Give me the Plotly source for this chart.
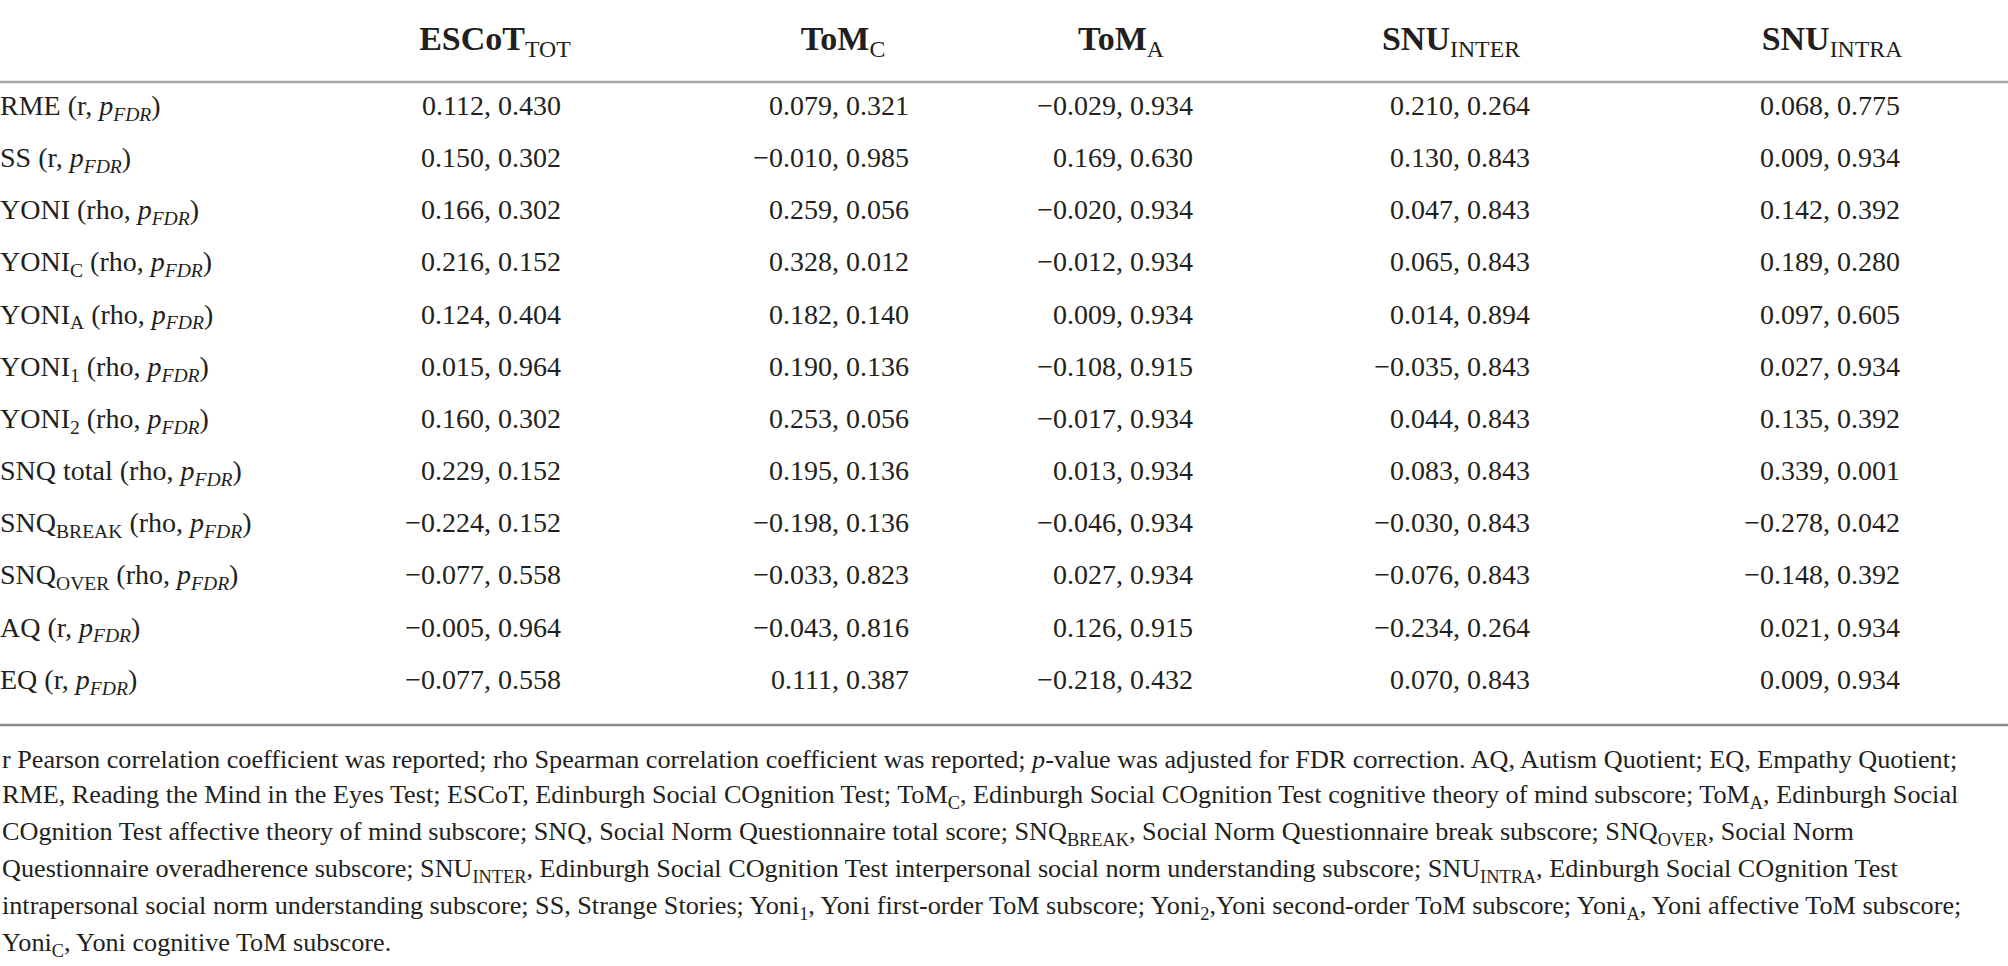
import plotly.graph_objects as go

# ---- data ----
row_labels = [
    "RME (r, <i>p</i><sub><i>FDR</i></sub>)",
    "SS (r, <i>p</i><sub><i>FDR</i></sub>)",
    "YONI (rho, <i>p</i><sub><i>FDR</i></sub>)",
    "YONI<sub>C</sub> (rho, <i>p</i><sub><i>FDR</i></sub>)",
    "YONI<sub>A</sub> (rho, <i>p</i><sub><i>FDR</i></sub>)",
    "YONI<sub>1</sub> (rho, <i>p</i><sub><i>FDR</i></sub>)",
    "YONI<sub>2</sub> (rho, <i>p</i><sub><i>FDR</i></sub>)",
    "SNQ total (rho, <i>p</i><sub><i>FDR</i></sub>)",
    "SNQ<sub>BREAK</sub> (rho, <i>p</i><sub><i>FDR</i></sub>)",
    "SNQ<sub>OVER</sub> (rho, <i>p</i><sub><i>FDR</i></sub>)",
    "AQ (r, <i>p</i><sub><i>FDR</i></sub>)",
    "EQ (r, <i>p</i><sub><i>FDR</i></sub>)",
]
col_headers = [
    "<b>ESCoT</b><sub>TOT</sub>",
    "<b>ToM</b><sub>C</sub>",
    "<b>ToM</b><sub>A</sub>",
    "<b>SNU</b><sub>INTER</sub>",
    "<b>SNU</b><sub>INTRA</sub>",
]
escot_r = [0.112, 0.150, 0.166, 0.216, 0.124, 0.015, 0.160, 0.229, -0.224, -0.077, -0.005, -0.077]
escot_p = [0.430, 0.302, 0.302, 0.152, 0.404, 0.964, 0.302, 0.152, 0.152, 0.558, 0.964, 0.558]
tomc_r = [0.079, -0.010, 0.259, 0.328, 0.182, 0.190, 0.253, 0.195, -0.198, -0.033, -0.043, 0.111]
tomc_p = [0.321, 0.985, 0.056, 0.012, 0.140, 0.136, 0.056, 0.136, 0.136, 0.823, 0.816, 0.387]
toma_r = [-0.029, 0.169, -0.020, -0.012, 0.009, -0.108, -0.017, 0.013, -0.046, 0.027, 0.126, -0.218]
toma_p = [0.934, 0.630, 0.934, 0.934, 0.934, 0.915, 0.934, 0.934, 0.934, 0.934, 0.915, 0.432]
inter_r = [0.210, 0.130, 0.047, 0.065, 0.014, -0.035, 0.044, 0.083, -0.030, -0.076, -0.234, 0.070]
inter_p = [0.264, 0.843, 0.843, 0.843, 0.894, 0.843, 0.843, 0.843, 0.843, 0.843, 0.264, 0.843]
intra_r = [0.068, 0.009, 0.142, 0.189, 0.097, 0.027, 0.135, 0.339, -0.278, -0.148, 0.021, 0.009]
intra_p = [0.775, 0.934, 0.392, 0.280, 0.605, 0.934, 0.392, 0.001, 0.042, 0.392, 0.934, 0.934]

footnote_lines = [
    "r Pearson correlation coefficient was reported; rho Spearman correlation coefficient was reported; <i>p</i>-value was adjusted for FDR correction. AQ, Autism Quotient; EQ, Empathy Quotient;",
    "RME, Reading the Mind in the Eyes Test; ESCoT, Edinburgh Social COgnition Test; ToM<sub>C</sub>, Edinburgh Social COgnition Test cognitive theory of mind subscore; ToM<sub>A</sub>, Edinburgh Social",
    "COgnition Test affective theory of mind subscore; SNQ, Social Norm Questionnaire total score; SNQ<sub>BREAK</sub>, Social Norm Questionnaire break subscore; SNQ<sub>OVER</sub>, Social Norm",
    "Questionnaire overadherence subscore; SNU<sub>INTER</sub>, Edinburgh Social COgnition Test interpersonal social norm understanding subscore; SNU<sub>INTRA</sub>, Edinburgh Social COgnition Test",
    "intrapersonal social norm understanding subscore; SS, Strange Stories; Yoni<sub>1</sub>, Yoni first-order ToM subscore; Yoni<sub>2</sub>,Yoni second-order ToM subscore; Yoni<sub>A</sub>, Yoni affective ToM subscore;",
    "Yoni<sub>C</sub>, Yoni cognitive ToM subscore.",
]

columns = [(escot_r, escot_p), (tomc_r, tomc_p), (toma_r, toma_p), (inter_r, inter_p), (intra_r, intra_p)]

# ---- layout/style constants (pixels) ----
W, H = 2008, 966
FONT = "Liberation Serif"
TXT = "#231f20"
BODY = 28
HEAD = 34
FOOT = 26.2
col_right = [561, 909, 1193, 1530, 1900]      # x of value column right edges
head_center = [495, 843, 1121, 1451, 1832]    # x of header centers
label_x = 0
row0_px, row_step = 108, 52.15
header_px = 41
top_line_px, bottom_line_px = 82, 725
foot0_px, foot_step = 759, 37.0


def fmt(v):
    return f"{v:.3f}".replace("-", "\u2212")


def ypx(p):
    return (p - row0_px) / row_step


fig = go.Figure()

for (rs, ps), xr in zip(columns, col_right):
    fig.add_trace(go.Scatter(
        x=[xr] * len(rs), y=list(range(len(rs))),
        mode="text", text=[f"{fmt(r)}, {fmt(p)}" for r, p in zip(rs, ps)],
        textposition="middle left", cliponaxis=False,
        textfont=dict(family=FONT, size=BODY, color=TXT),
        hoverinfo="skip", showlegend=False,
    ))

fig.add_trace(go.Scatter(
    x=[label_x] * len(row_labels), y=list(range(len(row_labels))),
    mode="text", text=row_labels, textposition="middle right", cliponaxis=False,
    textfont=dict(family=FONT, size=BODY, color=TXT),
    hoverinfo="skip", showlegend=False,
))

fig.add_trace(go.Scatter(
    x=head_center, y=[ypx(header_px)] * len(col_headers),
    mode="text", text=col_headers, textposition="middle center", cliponaxis=False,
    textfont=dict(family=FONT, size=HEAD, color=TXT),
    hoverinfo="skip", showlegend=False,
))

shapes = [
    dict(type="line", xref="x", yref="y", x0=0, x1=W, y0=ypx(top_line_px), y1=ypx(top_line_px),
         line=dict(color="#a8a8a8", width=2.5)),
    dict(type="line", xref="x", yref="y", x0=0, x1=W, y0=ypx(bottom_line_px), y1=ypx(bottom_line_px),
         line=dict(color="#8c8c8c", width=2.5)),
]

annotations = []
for i, line in enumerate(footnote_lines):
    annotations.append(dict(
        xref="x", yref="y", x=0, y=ypx(foot0_px + i * foot_step),
        text=line, showarrow=False, xanchor="left", yanchor="middle",
        font=dict(family=FONT, size=FOOT, color=TXT),
    ))

fig.update_layout(
    width=W, height=H,
    margin=dict(l=0, r=0, t=0, b=0),
    paper_bgcolor="white", plot_bgcolor="white",
    xaxis=dict(range=[0, W], visible=False, fixedrange=True),
    yaxis=dict(range=[ypx(H), ypx(0)], visible=False, fixedrange=True),
    shapes=shapes, annotations=annotations,
)

fig.write_html("out.html", config={"displayModeBar": False},
               post_script="document.body.style.margin='0px';")
